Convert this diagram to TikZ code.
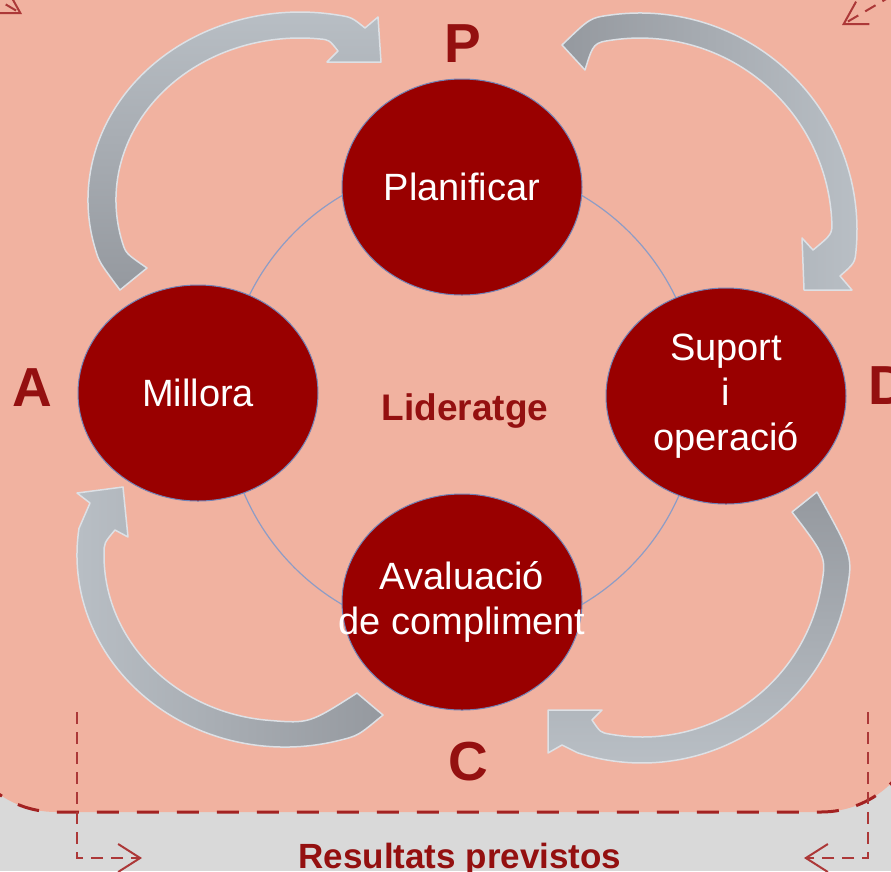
\documentclass[tikz,border=0pt]{standalone}
\usepackage{fontspec}
\setmainfont{Liberation Sans}
\usetikzlibrary{arrows.meta,shapes.geometric,positioning}
\definecolor{salmon}{HTML}{F1B2A0}
\definecolor{footgrey}{HTML}{D9D9D9}
\definecolor{stagered}{HTML}{990000}
\definecolor{rimblue}{HTML}{7083B8}
\definecolor{textred}{HTML}{941010}
\definecolor{dashred}{HTML}{A32222}
\definecolor{arrowdark}{HTML}{95999F}
\definecolor{arrowlight}{HTML}{B9BFC5}
\definecolor{arrowrim}{HTML}{DDE1E6}
\tikzset{%
  stage/.style={ellipse,draw=rimblue,line width=1pt,fill=stagered,minimum width=240pt,minimum height=216pt,inner sep=-40pt,text=white,align=center,font=\fontsize{38}{45}\selectfont},
  phase/.style={text=textred,font=\bfseries\fontsize{55}{60}\selectfont},
  cyclearrow/.style={draw=arrowrim,line width=1.5pt,line join=round},
  ring/.style={draw=rimblue!80,line width=1.2pt},
  bracket/.style={draw=dashred!90,line width=2pt,dash pattern=on 12pt off 8pt},
  zone/.style={fill=salmon,draw=dashred,line width=3pt,dash pattern=on 22pt off 18pt,rounded corners=100pt}%
}
\begin{document}
\begin{tikzpicture}[x=1pt,y=-1pt]
  \useasboundingbox (0,0) rectangle (891,871);
  \clip (0,0) rectangle (891,871);
  \fill[footgrey] (0,0) rectangle (891,871);
  \path[zone] (-44,-150) rectangle (921,812);

  \coordinate (hub) at (462,400);
  \draw[ring] (hub) circle[radius=237];

  % gray cycle arrows, tail to head
  \path[cyclearrow, top color=arrowlight, bottom color=arrowdark]
    (120,290) .. controls (99.2,262.1) .. (95.2,248.7)
    arc[start angle=165, end angle=280, x radius=212, y radius=188]
    .. controls (351.6,17.2) .. (365,28) -- (378,17) -- (381,62) -- (327,62) -- (338,51)
    .. controls (329.2,39.8) .. (319.2,38.9)
    arc[start angle=276, end angle=165, x radius=184, y radius=162]
    .. controls (125.8,253.4) .. (147,268) -- cycle;
  \path[cyclearrow, left color=arrowdark, right color=arrowlight]
    (562,45) .. controls (590,17.9) .. (609.8,15.1)
    arc[start angle=262, end angle=365, radius=217]
    .. controls (855,262.8) .. (840,276) -- (852,290) -- (804,290) -- (802,238) -- (813,250)
    .. controls (832.4,234) .. (831.7,220)
    arc[start angle=357, end angle=262, radius=192]
    .. controls (593.5,42.7) .. (585,70) -- cycle;
  \path[cyclearrow, top color=arrowdark, bottom color=arrowlight]
    (817,492) .. controls (852.9,556.6) .. (846.8,591.1)
    arc[start angle=10, end angle=108, radius=208]
    -- (562,745) -- (548,753) -- (548,710) -- (602,710) -- (592,720)
    .. controls (600.4,732.5) .. (610.4,734.2)
    arc[start angle=100, end angle=10, radius=182]
    .. controls (826.4,557.1) .. (792,512) -- cycle;
  \path[cyclearrow, left color=arrowlight, right color=arrowdark]
    (383,715) .. controls (358.2,735.7) .. (338.8,740.5)
    arc[start angle=75, end angle=188, x radius=208, y radius=192]
    -- (90,503) -- (77,493) -- (123,487) -- (128,537) -- (115,530)
    .. controls (104,543) .. (104,555)
    arc[start angle=180, end angle=95, x radius=181, y radius=166]
    .. controls (309.1,723.6) .. (357,693) -- cycle;

  \node (plan) [stage] at (462,187) {Planificar};
  \node (millora) [stage] at (198,393) {Millora};
  \node (suport) [stage] at (726,396) {Suport\\i\\operació};
  \node (aval) [stage] at (462,602) {Avaluació\\de compliment};

  \node (lead) [text=textred, font=\bfseries\fontsize{37}{40}\selectfont] at (465,411) {Lideratge};

  \node (p) [phase] at (463,44) {P};
  \node (a) [phase] at (32,388) {A};
  \node (d) [phase] at (888,386) {D};
  \node (c) [phase] at (468,762) {C};

  \node (result) [anchor=base, text=textred, font=\bfseries\fontsize{35}{40}\selectfont] at (460,868) {Resultats previstos};

  \coordinate (lefttop) at (77,712);
  \coordinate (leftfoot) at (77,858);
  \coordinate (lefttip) at (142,858);
  \coordinate (righttop) at (868,712);
  \coordinate (rightfoot) at (868,858);
  \coordinate (righttip) at (804,858);
  \coordinate (nwtail) at (-46,-26);
  \coordinate (nwtip) at (22,14);
  \coordinate (netail) at (910,-15);
  \coordinate (netip) at (842,25);
  \draw[bracket, -{Straight Barb[length=22pt,width=28pt]}] (lefttop) -- (leftfoot) -- (lefttip);
  \draw[bracket, -{Straight Barb[length=22pt,width=28pt]}] (righttop) -- (rightfoot) -- (righttip);
  \draw[bracket, -{Straight Barb[length=22pt,width=26pt]}] (nwtail) -- (nwtip);
  \draw[bracket, -{Straight Barb[length=22pt,width=26pt]}] (netail) -- (netip);
\end{tikzpicture}
\end{document}
